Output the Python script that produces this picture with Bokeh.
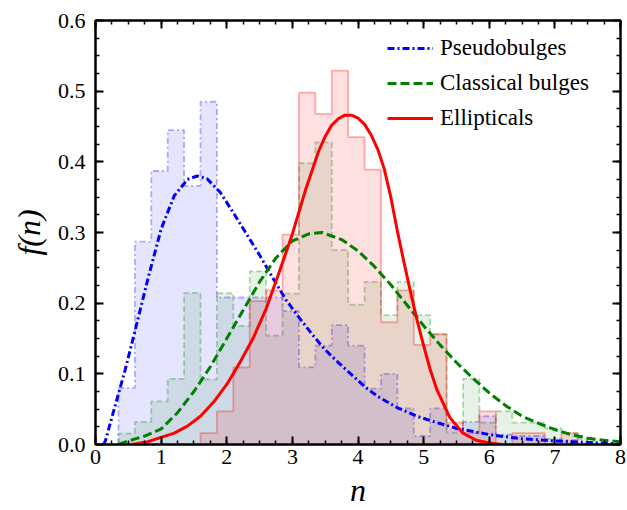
import numpy as np
from bokeh.plotting import figure
from bokeh.models import (LinearAxis, Range1d, FixedTicker, CustomJSTickFormatter,
                          Legend, LegendItem)
from bokeh.embed import file_html
from bokeh.resources import INLINE

# ---- histogram data: shared bins of width 0.25 starting at n = 0.35 ----
bin_start = 0.35
bin_width = 0.25
pseudo_hist = [0.080, 0.287, 0.387, 0.445, 0.366, 0.485, 0.208, 0.208, 0.208, 0.208,
               0.189, 0.109, 0.140, 0.169, 0.140, 0.079, 0.100, 0.051, 0.012, 0.051,
               0.021, 0.032, 0.040, 0.014, 0.012, 0.012, 0.008, 0.006, 0.0, 0.0]
classical_hist = [0.0155, 0.032, 0.061, 0.093, 0.2145, 0.092, 0.214, 0.168, 0.245, 0.154,
                  0.2136, 0.398, 0.4276, 0.275, 0.198, 0.230, 0.183, 0.230, 0.183, 0.156,
                  0.017, 0.093, 0.031, 0.047, 0.031, 0.031, 0.023, 0.016, 0.008, 0.0]
elliptical_hist = [0.0, 0.0, 0.0, 0.0, 0.0, 0.016, 0.047, 0.109, 0.203, 0.218,
                   0.297, 0.498, 0.468, 0.529, 0.435, 0.389, 0.173, 0.218, 0.141, 0.156,
                   0.031, 0.016, 0.047, 0.0, 0.016, 0.016, 0.0, 0.016, 0.0, 0.0]

# ---- fitted distributions f(n) ----
pseudo_n = [0.12, 0.15, 0.3, 0.45, 0.6, 0.8, 1.0, 1.2, 1.4, 1.55, 1.7, 1.9, 2.1, 2.3, 2.5,
            2.7, 2.9, 3.1, 3.3, 3.5, 3.7, 3.9, 4.1, 4.3, 4.6, 4.9, 5.2, 5.5, 6.0, 6.5,
            7.0, 7.5, 8.0]
pseudo_f = [0.0, 0.005, 0.055, 0.105, 0.160, 0.235, 0.305, 0.352, 0.375, 0.380, 0.376,
            0.357, 0.328, 0.298, 0.268, 0.236, 0.205, 0.180, 0.156, 0.134, 0.116, 0.099,
            0.082, 0.068, 0.052, 0.040, 0.031, 0.023, 0.014, 0.008, 0.005, 0.003, 0.001]

classical_n = [0.35, 0.5, 0.75, 1.0, 1.25, 1.5, 1.75, 2.0, 2.25, 2.5, 2.75, 3.0, 3.25, 3.45,
               3.75, 4.0, 4.25, 4.5, 4.75, 5.0, 5.25, 5.5, 5.75, 6.0, 6.25, 6.5, 6.75,
               7.0, 7.25, 7.5, 7.75, 8.0]
classical_f = [0.0, 0.005, 0.012, 0.022, 0.045, 0.075, 0.110, 0.150, 0.190, 0.230, 0.264,
               0.288, 0.298, 0.300, 0.290, 0.274, 0.252, 0.226, 0.197, 0.168, 0.141, 0.116,
               0.094, 0.073, 0.055, 0.040, 0.030, 0.021, 0.014, 0.009, 0.006, 0.004]

elliptical_n = [0.55, 0.8, 1.0, 1.2, 1.4, 1.6, 1.8, 2.0, 2.2, 2.4, 2.6, 2.8, 3.0, 3.2, 3.4,
                3.5, 3.6, 3.7, 3.8, 3.9, 4.0, 4.1, 4.2, 4.3, 4.4, 4.5, 4.6, 4.7, 4.8,
                4.9, 5.0, 5.1, 5.2, 5.4, 5.6, 5.8, 6.0, 6.2]
elliptical_f = [0.0, 0.004, 0.010, 0.016, 0.026, 0.040, 0.060, 0.085, 0.116, 0.150, 0.192,
                0.244, 0.298, 0.360, 0.415, 0.436, 0.452, 0.461, 0.466, 0.466, 0.462,
                0.453, 0.438, 0.418, 0.390, 0.350, 0.302, 0.258, 0.216, 0.176, 0.140,
                0.106, 0.078, 0.038, 0.016, 0.006, 0.002, 0.0]

x_ticks = [0, 1, 2, 3, 4, 5, 6, 7, 8]
y_ticks = [0.0, 0.1, 0.2, 0.3, 0.4, 0.5, 0.6]

FONT = "Liberation Serif"


def step_outline(heights):
    """Closed step outline (x, y) of a histogram over the shared bins."""
    h = np.asarray(heights, dtype=float)
    nz = np.nonzero(h)[0]
    i0, i1 = nz[0], nz[-1] + 1
    edges = bin_start + bin_width * np.arange(i0, i1 + 1)
    xs = np.repeat(edges, 2)
    ys = np.concatenate([[0.0], np.repeat(h[i0:i1], 2), [0.0]])
    return xs, ys


p = figure(width=627, height=510, x_range=Range1d(0, 8), y_range=Range1d(0, 0.6),
           output_backend="svg", toolbar_location=None,
           min_border_left=95, min_border_right=7, min_border_top=20, min_border_bottom=63)
p.grid.visible = False
p.outline_line_color = "black"
p.outline_line_width = 2

# histograms (filled steps with translucent outlines)
hist_styles = [
    (pseudo_hist, "blue", "6 3 2 3", 0.10),
    (classical_hist, "green", "6 3", 0.10),
    (elliptical_hist, "red", "solid", 0.12),
]
for heights, color, dash, falpha in hist_styles:
    xs, ys = step_outline(heights)
    p.patch(xs, ys, fill_color=color, fill_alpha=falpha, line_alpha=0)
    p.line(xs, ys, line_color=color, line_alpha=0.3, line_width=1.8, line_dash=dash)

# fitted curves
r_pseudo = p.line(pseudo_n, pseudo_f, line_color="blue", line_width=3,
                  line_dash="7 3 2 3", line_join="round")
r_classical = p.line(classical_n, classical_f, line_color="green", line_width=3,
                     line_dash="9 4", line_join="round")
r_elliptical = p.line(elliptical_n, elliptical_f, line_color="red", line_width=3,
                      line_join="round")

# axes
x_minor = list(np.arange(0, 8.001, 0.25))
y_minor = list(np.arange(0, 0.6001, 0.025))
xticker = FixedTicker(ticks=x_ticks, minor_ticks=x_minor)
yticker = FixedTicker(ticks=y_ticks, minor_ticks=y_minor)

p.xaxis.ticker = xticker
p.yaxis.ticker = yticker
p.yaxis.formatter = CustomJSTickFormatter(code="return tick.toFixed(1);")
p.xaxis.axis_label = "n"
p.yaxis.axis_label = "f(n)"

blank = CustomJSTickFormatter(code="return '';")
p.add_layout(LinearAxis(ticker=xticker, formatter=blank), "above")
p.add_layout(LinearAxis(ticker=yticker, formatter=blank), "right")

for ax in p.axis:
    ax.axis_line_width = 2
    ax.major_tick_in = 8
    ax.major_tick_out = 0
    ax.minor_tick_in = 4
    ax.minor_tick_out = 0
    ax.major_tick_line_width = 2
    ax.minor_tick_line_width = 1.5
    ax.major_label_text_font = FONT
    ax.major_label_text_font_size = "22px"
    ax.major_label_text_color = "black"
    ax.axis_label_text_font = FONT
    ax.axis_label_text_font_size = "32px"
    ax.axis_label_text_font_style = "italic"
    ax.axis_label_text_color = "black"

p.xaxis[0].major_label_standoff = 7
p.yaxis[0].major_label_standoff = 10
p.xaxis[0].axis_label_standoff = 2
p.yaxis[0].axis_label_standoff = 8
for ax in (p.above[0], p.right[0]):
    ax.major_label_standoff = 0
    ax.axis_label_standoff = 0

# legend placed in frame-relative screen units (x from left, y from bottom)
legend = Legend(items=[
    LegendItem(label="Pseudobulges", renderers=[r_pseudo]),
    LegendItem(label="Classical bulges", renderers=[r_classical]),
    LegendItem(label="Ellipticals", renderers=[r_elliptical]),
], location=(284, 305))
legend.background_fill_alpha = 0
legend.border_line_alpha = 0
legend.label_text_font = FONT
legend.label_text_font_size = "23px"
legend.label_text_color = "black"
legend.glyph_width = 46
legend.glyph_height = 24
legend.label_height = 24
legend.spacing = 9
legend.margin = 0
legend.padding = 8
legend.label_standoff = 7
p.add_layout(legend)

open("out.html", "w").write(file_html(p, INLINE))
